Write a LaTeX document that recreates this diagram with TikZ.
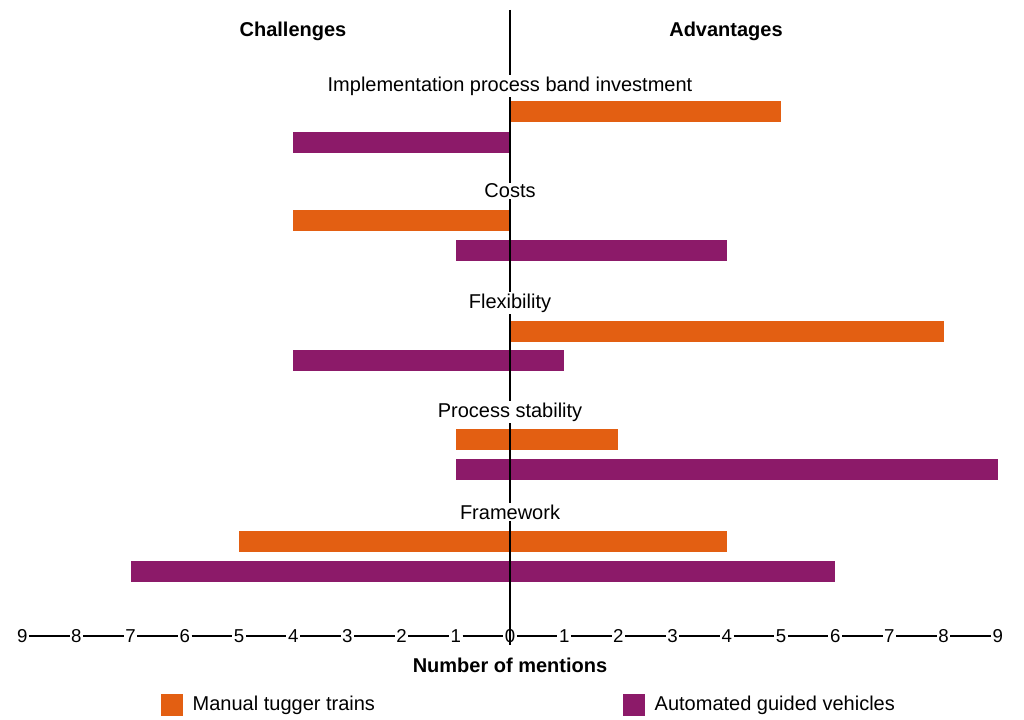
\documentclass[tikz,border=0pt]{standalone}
\usepackage{fontspec}
\setmainfont{Liberation Sans}
\definecolor{tugger}{HTML}{E35F12}
\definecolor{agv}{HTML}{8C1A69}
\begin{document}
\begin{tikzpicture}[x=0.75pt,y=-0.75pt,
    label/.style={font=\fontsize{15}{17}\selectfont},
    head/.style={font=\fontsize{15}{17}\selectfont\bfseries},
    tick/.style={font=\fontsize{14}{16}\selectfont,inner sep=1pt}]
  \useasboundingbox (0,0) rectangle (1024,720);
  % unit of one mention
  \def\u{54.2}
  \def\zero{510}

  % bars: value from, value to, top y
  \newcommand{\mentionbar}[4]{\fill[#1] (\zero+#2*\u,#4) rectangle (\zero+#3*\u,#4+21);}
  \mentionbar{tugger}{0}{5}{101}
  \mentionbar{agv}{-4}{0}{132}
  \mentionbar{tugger}{-4}{0}{210}
  \mentionbar{agv}{-1}{4}{240}
  \mentionbar{tugger}{0}{8}{321}
  \mentionbar{agv}{-4}{1}{350}
  \mentionbar{tugger}{-1}{2}{429}
  \mentionbar{agv}{-1}{9}{459}
  \mentionbar{tugger}{-5}{4}{531}
  \mentionbar{agv}{-7}{6}{561}

  \draw[line width=1.5pt] (\zero,10) -- (\zero,645);

  \node[head] (challenges) at (293,31) {Challenges};
  \node[head] (advantages) at (726,31) {Advantages};
  \node[label,fill=white,inner sep=1pt] (implementation) at (\zero,86) {Implementation process band investment};
  \node[label,fill=white,inner sep=1pt] (costs) at (\zero,191) {Costs};
  \node[label,fill=white,inner sep=1pt] (flexibility) at (\zero,303) {Flexibility};
  \node[label,fill=white,inner sep=1pt] (stability) at (\zero,412) {Process stability};
  \node[label,fill=white,inner sep=1pt] (framework) at (\zero,512) {Framework};

  % axis
  \foreach \i in {-9,...,9} {
    \pgfmathtruncatemacro{\a}{abs(\i)}
    \node[tick] (t\i) at (\zero+\i*\u,636) {\a};
  }
  \foreach \i [evaluate=\i as \j using int(\i+1)] in {-9,...,8}
    \draw[line width=1.2pt] (t\i) -- (t\j);
  \node[head] (mentions) at (\zero,665) {Number of mentions};

  % legend
  \fill[tugger] (161,694) rectangle (183,716);
  \node[label,anchor=west] (manual) at (188,705) {Manual tugger trains};
  \fill[agv] (623,694) rectangle (645,716);
  \node[label,anchor=west] (automated) at (650,705) {Automated guided vehicles};
\end{tikzpicture}
\end{document}
